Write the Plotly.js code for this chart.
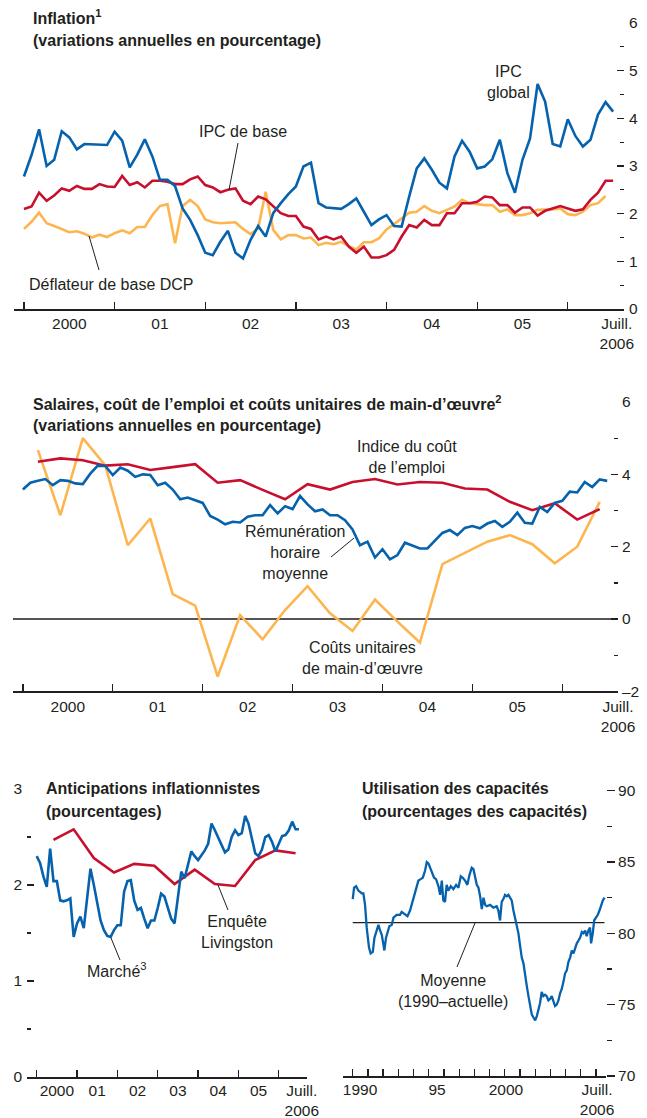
<!DOCTYPE html>
<html>
<head>
<meta charset="utf-8">
<script src="https://cdn.plot.ly/plotly-3.0.1.min.js"></script>
<style>
html,body{margin:0;padding:0;background:#fff;}
#chart{width:647px;height:1118px;}
</style>
</head>
<body>
<div id="chart"></div>
<script>
// ---------- DATA ----------
// Panel 1 : Inflation (monthly, Jan 2000 - Jul 2006)
const ipcGlobal = [2.78,3.23,3.77,3.00,3.13,3.73,3.60,3.35,3.46,3.45,3.45,3.44,3.72,3.53,2.97,3.24,3.56,3.20,2.71,2.71,2.58,2.11,1.87,1.55,1.18,1.13,1.41,1.64,1.18,1.06,1.45,1.74,1.52,2.01,2.22,2.41,2.57,2.99,3.07,2.22,2.13,
  2.11,2.10,2.20,2.32,2.04,1.76,1.88,1.97,1.74,1.73,2.36,2.95,3.16,2.92,2.65,2.53,3.20,3.53,3.30,2.95,2.99,3.14,3.55,2.85,2.44,3.13,3.58,4.72,4.35,3.46,3.41,3.98,3.63,3.41,3.55,4.08,4.34,4.14];
const ipcBase = [2.10,2.15,2.44,2.27,2.38,2.53,2.48,2.58,2.52,2.52,2.62,2.57,2.56,2.79,2.60,2.66,2.55,2.69,2.69,2.67,2.62,2.62,2.72,2.78,2.60,2.55,2.45,2.50,2.53,2.27,2.20,2.36,2.30,2.15,2.01,1.95,1.95,1.73,1.68,
  1.46,1.52,1.46,1.52,1.31,1.18,1.31,1.08,1.08,1.13,1.24,1.52,1.76,1.71,1.87,1.76,1.76,2.01,2.01,2.22,2.22,2.25,2.36,2.34,2.18,2.18,2.02,2.13,2.13,1.96,2.06,2.11,2.16,2.11,2.06,2.09,2.29,2.44,2.69,2.69];
const dcpBase = [1.68,1.83,2.02,1.80,1.74,1.68,1.61,1.63,1.58,1.50,1.56,1.51,1.59,1.65,1.59,1.72,1.72,1.97,2.16,2.20,1.38,2.16,2.29,2.16,1.88,1.82,1.80,1.81,1.82,1.68,1.57,1.69,2.46,1.66,1.46,1.55,1.55,1.48,1.50,
  1.34,1.39,1.36,1.41,1.32,1.25,1.40,1.40,1.48,1.67,1.78,1.90,2.02,2.04,2.16,2.06,2.01,2.08,2.15,2.29,2.22,2.20,2.18,2.18,2.04,2.09,1.97,1.97,2.01,2.08,2.08,2.09,2.11,1.99,1.97,2.04,2.18,2.22,2.37];

// Panel 2 : wages (monthly), ECI and unit labour costs (quarterly)
const remHoraire = [3.58,3.77,3.82,3.87,3.70,3.84,3.82,3.75,3.73,4.02,4.24,4.23,3.98,4.19,4.10,3.93,4.00,3.98,3.70,3.77,3.58,3.31,3.36,3.29,3.21,2.85,2.75,2.62,2.69,2.67,2.83,2.87,2.87,3.15,2.92,3.12,3.04,3.40,3.17,
  2.98,3.03,2.87,2.87,2.73,2.48,2.04,2.14,1.70,1.93,1.65,1.77,2.11,2.02,1.95,1.95,2.16,2.38,2.46,2.32,2.52,2.57,2.51,2.64,2.71,2.55,2.69,2.94,2.66,2.64,3.10,2.96,3.21,3.27,3.52,3.50,3.79,3.65,3.86,3.82];
const indiceCoutEmploi = [4.35,4.44,4.39,4.24,4.28,4.12,4.20,4.28,3.77,3.84,3.57,3.31,3.73,3.58,3.79,3.87,3.72,3.79,3.77,3.61,3.58,3.24,3.01,3.20,2.75,3.04];
const coutsUnitaires = [4.67,2.87,5.00,4.25,2.04,2.78,0.69,0.37,-1.59,0.11,-0.56,0.25,0.91,0.16,-0.33,0.54,-0.07,-0.65,1.52,1.83,2.14,2.32,2.07,1.54,2.00,3.24];

// Panel 3 : inflation expectations
const marche = [2.30,2.23,2.09,1.98,2.38,2.04,2.04,1.84,1.83,1.84,1.86,1.46,1.60,1.67,1.55,1.84,2.17,2.00,1.83,1.63,1.53,1.47,1.46,1.53,1.58,1.58,1.93,2.04,2.05,1.84,1.74,1.76,1.65,1.55,1.63,1.63,1.76,1.91,1.88,1.77,
  1.65,1.60,1.88,2.14,2.07,2.21,2.35,2.30,2.26,2.31,2.36,2.43,2.64,2.57,2.49,2.42,2.34,2.37,2.50,2.57,2.52,2.54,2.72,2.64,2.49,2.33,2.30,2.37,2.50,2.52,2.45,2.35,2.43,2.51,2.52,2.57,2.66,2.58,2.58];
const livingston = [2.47,2.58,2.28,2.13,2.22,2.20,2.01,2.16,2.01,1.99,2.26,2.36,2.33];

// Panel 4 : capacity utilisation
const capYears = [1990.00,1990.09,1990.22,1990.37,1990.48,1990.59,1990.70,1990.81,1990.92,1991.07,1991.18,1991.32,1991.43,1991.58,1991.69,1991.80,1991.91,1992.02,1992.08,1992.19,1992.30,1992.41,1992.57,1992.68,1992.89,1993.11,1993.22,1993.44,1993.60,1993.77,1993.99,
  1994.17,1994.32,1994.47,1994.61,1994.76,1994.87,1994.98,1995.09,1995.20,1995.35,1995.48,1995.64,1995.75,1995.86,1995.96,1996.07,1996.18,1996.29,1996.45,1996.62,1996.80,1996.95,1997.11,1997.24,1997.39,1997.54,1997.68,1997.83,1997.94,
  1998.05,1998.16,1998.27,1998.38,1998.49,1998.60,1998.71,1998.82,1999.04,1999.25,1999.47,1999.58,1999.69,1999.80,1999.91,2000.02,2000.13,2000.24,2000.35,2000.46,2000.57,2000.68,2000.79,2000.90,2001.01,2001.12,2001.23,2001.34,2001.45,
  2001.56,2001.67,2001.78,2001.89,2002.00,2002.11,2002.21,2002.32,2002.43,2002.54,2002.65,2002.76,2002.87,2002.98,2003.09,2003.20,2003.31,2003.42,2003.53,2003.64,2003.75,2003.86,2003.97,2004.08,2004.19,2004.30,2004.41,2004.52,2004.63,
  2004.74,2004.85,2004.96,2005.07,2005.18,2005.29,2005.39,2005.50,2005.61,2005.68,2005.79,2005.88,2006.01,2006.12,2006.23,2006.34,2006.45,2006.56];
const capUtil = [82.4,83.2,83.3,83.0,82.9,82.8,82.8,82.0,80.4,79.0,78.6,78.7,79.7,80.3,80.6,80.2,79.9,79.2,78.8,79.7,80.2,80.5,80.6,81.1,81.3,81.3,81.5,81.3,81.2,81.6,82.4,
  83.0,83.7,83.8,83.9,84.4,85.0,84.9,84.6,84.2,83.9,83.8,83.3,82.7,83.7,82.3,82.2,83.4,83.0,83.3,83.1,83.4,83.2,84.0,83.9,83.7,83.4,84.1,84.6,84.5,
  84.0,83.4,83.2,82.6,81.7,82.5,82.0,81.9,82.0,81.8,81.9,81.6,80.9,82.2,82.4,82.7,82.6,82.7,82.5,82.3,81.6,81.0,80.5,80.0,79.1,78.3,77.9,76.9,76.3,
  75.6,74.9,74.3,74.1,73.9,74.2,74.6,75.1,75.9,75.6,75.7,75.6,75.3,75.4,75.6,75.3,74.9,75.0,75.3,75.8,76.1,76.6,77.2,77.4,78.0,78.3,78.8,78.6,79.0,
  79.3,79.5,79.7,80.1,80.0,80.2,79.8,80.2,80.4,79.3,80.0,80.9,81.1,81.3,81.6,82.0,82.3,82.5];
const capMoyenne = 80.75;
const capMoyenneSpan = [1990.0, 2006.56];

// tick labels
const yrLabels = ['2000','01','02','03','04','05','Juill.<br>2006'];
const capLabels = ['1990','95','2000','Juill.<br>2006'];

// ---------- helpers ----------
const monthly = (n) => Array.from({length:n}, (_, m) => 2000 + m/12);
const quarterly = (n) => Array.from({length:n}, (_, q) => 2000 + (3*q + 2)/12);
const semiannual = (n) => Array.from({length:n}, (_, k) => 2000 + (6*k + 5)/12);
const range = (a, b, s) => { const r=[]; for (let v=a; v<=b+1e-9; v+=s) r.push(+v.toFixed(3)); return r; };

const W = 647, H = 1118;
const px = v => v / W;
const py = v => 1 - v / H;

const BLUE = '#0762ad', RED = '#c8102e', YEL = '#fdb64f', INK = '#231f20';
const FONT = 'Liberation Sans, Arial, Helvetica, sans-serif';
const LW = 2.6;

function line(x, y, color, xa, ya, w) {
  return {type:'scatter', mode:'lines', x:x, y:y, xaxis:xa, yaxis:ya,
          line:{color:color, width:w || LW}, hoverinfo:'skip', showlegend:false};
}

const traces = [
  line(monthly(dcpBase.length), dcpBase, YEL, 'x', 'y'),
  line(monthly(ipcBase.length), ipcBase, RED, 'x', 'y'),
  line(monthly(ipcGlobal.length), ipcGlobal, BLUE, 'x', 'y'),
  line(quarterly(coutsUnitaires.length), coutsUnitaires, YEL, 'x2', 'y2'),
  line(quarterly(indiceCoutEmploi.length), indiceCoutEmploi, RED, 'x2', 'y2'),
  line(monthly(remHoraire.length), remHoraire, BLUE, 'x2', 'y2'),
  line(semiannual(livingston.length), livingston, RED, 'x3', 'y3'),
  line(monthly(marche.length), marche, BLUE, 'x3', 'y3'),
  line(capMoyenneSpan, [capMoyenne, capMoyenne], INK, 'x4', 'y4', 1.2),
  line(capYears, capUtil, BLUE, 'x4', 'y4', 2.3)
];

const tickFont = {family:FONT, size:15.5, color:INK};

function xAxis(dom, rng, anchor, labPos, labTxt, minorVals, opts) {
  return Object.assign({domain:dom, range:rng, anchor:anchor, showline:true, linecolor:INK, linewidth:1.5,
          showgrid:false, zeroline:false, fixedrange:true,
          tickmode:'array', tickvals:labPos, ticktext:labTxt, ticks:'', tickfont:tickFont,
          minor:{tickmode:'array', tickvals:minorVals, ticks:'inside', ticklen:7, tickwidth:1.3, tickcolor:INK, showgrid:false}}, opts || {});
}
function yAxis(dom, rng, anchor, side, majorVals, majorTxt, minorVals, opts) {
  const o = Object.assign({domain:dom, range:rng, anchor:anchor, side:side, showline:false, showgrid:false,
          zeroline:false, fixedrange:true, tickmode:'array', tickvals:majorVals,
          ticktext:majorTxt || majorVals.map(String), showticklabels: !!majorTxt,
          ticks:'inside', ticklen:7, tickwidth:1.3, tickcolor:INK, tickfont:tickFont,
          minor:{tickmode:'array', tickvals:minorVals, ticks:'inside', ticklen:4, tickwidth:1.3, tickcolor:INK, showgrid:false}}, opts || {});
  return o;
}

const p1x = [px(14), px(624)], p1y = [py(309), py(23)];
const p2x = [px(13), px(618)], p2y = [py(691.4), py(402)];
const p3x = [px(27), px(307)], p3y = [py(1077), py(789)];
const p4x = [px(343), px(606)], p4y = [py(1076), py(790.7)];

const layout = {
  width:W, height:H, margin:{l:0, r:0, t:0, b:0},
  paper_bgcolor:'#fff', plot_bgcolor:'rgba(0,0,0,0)',
  font:{family:FONT, color:INK},
  showlegend:false,
  xaxis: xAxis(p1x, [1999.89, 2006.62], 'y', [2000.5,2001.5,2002.5,2003.5,2004.5,2005.5,2006.54], yrLabels, range(2000,2006,1)),
  xaxis2: xAxis(p2x, [1999.89, 2006.62], 'y2', [2000.5,2001.5,2002.5,2003.5,2004.5,2005.5,2006.62], yrLabels, range(2000,2006,1)),
  xaxis3: xAxis(p3x, [1999.76, 2006.70], 'y3', [2000.5,2001.5,2002.5,2003.5,2004.5,2005.5,2006.57], yrLabels, range(2000,2006,1), {ticklabelstandoff:-1}),
  xaxis4: xAxis(p4x, [1989.36, 2006.66], 'y4', [1990.48,1995.55,2000.08,2006.07], capLabels, range(1990,2006,1), {ticklabelstandoff:-1}),

  yaxis: yAxis(p1y, [0,6], 'x', 'right', [0,1,2,3,4,5,6], ['0','1','2','3','4','5','6'], range(0.5,5.5,1), {ticklabelstandoff:4}),
  yaxis5: yAxis(p1y, [0,6], 'x', 'left', [0,1,2,3,4,5,6], null, range(0.5,5.5,1), {overlaying:'y'}),

  yaxis2: yAxis(p2y, [-2,6], 'x2', 'right', [-2,0,2,4,6], ['\u20132','0','2','4','6'], [-1,1,3,5],
                {zeroline:true, zerolinecolor:'#555', zerolinewidth:1.2, ticklabelstandoff:3}),
  yaxis6: yAxis(p2y, [-2,6], 'x2', 'left', [-2,0,2,4,6], null, [-1,1,3,5], {overlaying:'y2'}),

  yaxis3: yAxis(p3y, [0,3], 'x3', 'left', [0,1,2,3], ['0','1','2','3'], [0.5,1.5,2.5], {ticklabelstandoff:4}),
  yaxis7: yAxis(p3y, [0,3], 'x3', 'right', [0,0.5,1,1.5,2,2.5,3], null, [], {overlaying:'y3', ticklen:5}),

  yaxis4: yAxis(p4y, [70,90], 'x4', 'right', [70,75,80,85,90], ['70','75','80','85','90'], [72.5,77.5,82.5,87.5],
                {ticks:'outside', ticklen:8, minor:{tickmode:'array', tickvals:[72.5,77.5,82.5,87.5], ticks:'outside', ticklen:5, tickwidth:1.3, tickcolor:INK}}),
  yaxis8: yAxis(p4y, [70,90], 'x4', 'left', [70,72.5,75,77.5,80,82.5,85,87.5,90], null, [], {overlaying:'y4', ticklen:4}),

  annotations: [],
  shapes: []
};
['yaxis5','yaxis6','yaxis7','yaxis8'].forEach(k => { delete layout[k].domain; });

const A = layout.annotations, S = layout.shapes;
function txt(x, y, t, opts) {
  A.push(Object.assign({xref:'paper', yref:'paper', x:px(x), y:py(y), text:t, showarrow:false,
    xanchor:'center', yanchor:'middle', align:'center', font:{family:FONT, size:16, color:INK}}, opts || {}));
}
function title(x, y, t) {
  txt(x, y, '<b>' + t + '</b>', {xanchor:'left', align:'left', font:{family:FONT, size:16, color:INK}});
}
function leader(x0, y0, x1, y1) {
  S.push({type:'line', xref:'paper', yref:'paper', x0:px(x0), y0:py(y0), x1:px(x1), y1:py(y1),
          line:{color:INK, width:1}});
}

// Panel 1
title(31, 17, 'Inflation<sup>1</sup>');
title(31, 41, '(variations annuelles en pourcentage)');
txt(243, 131, 'IPC de base');
leader(238, 143, 229, 190);
txt(508, 81.5, 'IPC<br>global');
txt(27, 284, 'Déflateur de base DCP', {xanchor:'left'});
leader(99, 270, 89, 236);

// Panel 2
title(31, 403, 'Salaires, coût de l\u2019emploi et coûts unitaires de main-d\u2019œuvre<sup>2</sup>');
title(31, 425, '(variations annuelles en pourcentage)');
txt(407, 457, 'Indice du coût<br>de l\u2019emploi');
txt(295, 552, 'Rémunération<br>horaire<br>moyenne');
leader(331, 557, 354, 538);
txt(362, 658, 'Coûts unitaires<br>de main-d\u2019œuvre');

// Panel 3
title(44, 788, 'Anticipations inflationnistes');
title(44, 811, '(pourcentages)');
txt(237, 932, 'Enquête<br>Livingston');
leader(218, 885, 228, 910);
txt(117, 970, 'Marché<sup>3</sup>');
leader(111, 938, 120, 960);

// Panel 4
title(360, 788, 'Utilisation des capacités');
title(360, 811, '(pourcentages des capacités)');
txt(453, 991, 'Moyenne<br>(1990\u2013actuelle)');
leader(475, 923, 457, 967);

Plotly.newPlot('chart', traces, layout, {staticPlot:true, displayModeBar:false});
</script>
</body>
</html>
